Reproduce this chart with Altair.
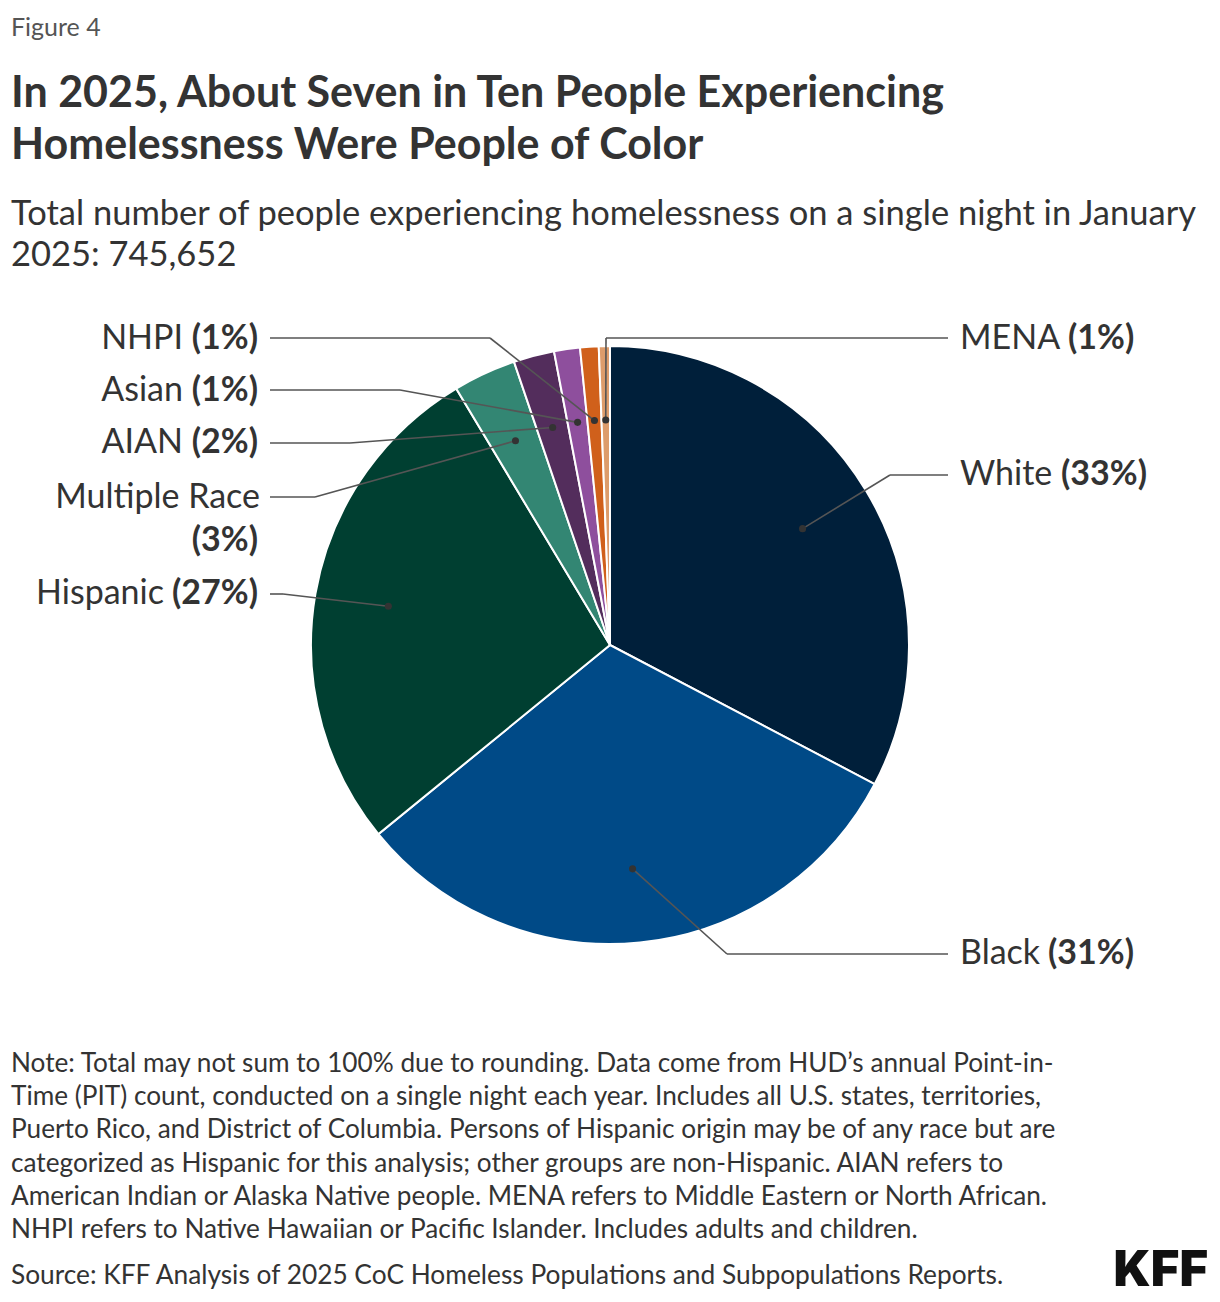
import altair as alt
import pandas as pd

# Share of people experiencing homelessness by race/ethnicity, January 2025 (percent)
categories = ["White", "Black", "Hispanic", "Multiple Race", "AIAN", "Asian", "NHPI", "MENA"]
shares = [32.7, 31.4, 27.3, 3.4, 2.2, 1.4, 1.0, 0.6]
slice_colors = ["#001f3a", "#004a87", "#003f31", "#338673", "#532d5c",
                "#8e4f9d", "#d0601b", "#dd9c6b"]

# Label layout (pixels): leader-line elbows and text anchors
label_y = [475, 954, 594, 497, 443, 390, 338, 338]
elbow_x = [890, 727, 283, 315, 350, 400, 490, 606]
line_end_x = [948, 948, 270, 270, 270, 270, 270, 948]
name_x = [960, 960, 164, 260, 183, 183, 183, 960]
name_y = [475, 954, 594, 498, 443, 391, 339, 339]
pct_x = [1061, 1048, 258, 258, 258, 258, 258, 1068]
pct_y = [475, 954, 594, 541, 443, 391, 339, 339]
side = ["right", "right", "left", "left", "left", "left", "left", "right"]

FONT = "Lato"
INK = "#333333"
CX, CY, R, R_DOT = 610, 645, 299, 225

df = pd.DataFrame({
    "idx": range(len(categories)),
    "category": categories,
    "share": shares,
    "label_y": label_y,
    "elbow_x": elbow_x,
    "line_end_x": line_end_x,
    "name_x": name_x,
    "name_y": name_y,
    "pct_x": pct_x,
    "pct_y": pct_y,
    "side": side,
})
df["pct_text"] = ["(" + str(int(round(v))) + "%)" for v in df["share"]]
df["name_text"] = df["category"]

W, H = 1220, 1302

pie = alt.Chart(df).mark_arc(radius=R, stroke="white", strokeWidth=2).encode(
    theta=alt.Theta("share:Q", stack=True),
    color=alt.Color("category:N", scale=alt.Scale(domain=categories, range=slice_colors), legend=None),
    order=alt.Order("idx:Q"),
    x=alt.value(CX),
    y=alt.value(CY),
)

# Anchor point of each leader line: mid-angle of the slice, 3/4 of the radius out
anchored = alt.Chart(df).transform_joinaggregate(
    total="sum(share)"
).transform_window(
    cum="sum(share)", sort=[alt.SortField("idx")]
).transform_calculate(
    mid="2*PI*(datum.cum - datum.share/2)/datum.total",
    dot_x=f"{CX} + {R_DOT}*sin(datum.mid)",
    dot_y=f"{CY} - {R_DOT}*cos(datum.mid)",
)

px = lambda f: alt.X(f, scale=None, axis=None)
py = lambda f: alt.Y(f, scale=None, axis=None)

leader_a = anchored.mark_rule(color="#555555", strokeWidth=1.6).encode(
    x=px("dot_x:Q"), y=py("dot_y:Q"), x2="elbow_x:Q", y2="label_y:Q"
)
leader_b = anchored.mark_rule(color="#555555", strokeWidth=1.6).encode(
    x=px("elbow_x:Q"), y=py("label_y:Q"), x2="line_end_x:Q"
)
dots = anchored.mark_circle(size=50, color="#333333", opacity=1).encode(
    x=px("dot_x:Q"), y=py("dot_y:Q")
)

label_size = 34
names_right = alt.Chart(df).transform_filter("datum.side == 'right'").mark_text(
    font=FONT, fontSize=label_size, color=INK, align="left", baseline="middle"
).encode(x=px("name_x:Q"), y=py("name_y:Q"), text="name_text:N")
names_left = alt.Chart(df).transform_filter("datum.side == 'left'").mark_text(
    font=FONT, fontSize=label_size, color=INK, align="right", baseline="middle"
).encode(x=px("name_x:Q"), y=py("name_y:Q"), text="name_text:N")
pcts_right = alt.Chart(df).transform_filter("datum.side == 'right'").mark_text(
    font=FONT, fontSize=label_size, fontWeight="bold", color=INK, align="left", baseline="middle"
).encode(x=px("pct_x:Q"), y=py("pct_y:Q"), text="pct_text:N")
pcts_left = alt.Chart(df).transform_filter("datum.side == 'left'").mark_text(
    font=FONT, fontSize=label_size, fontWeight="bold", color=INK, align="right", baseline="middle"
).encode(x=px("pct_x:Q"), y=py("pct_y:Q"), text="pct_text:N")


def text_block(lines, x, y0, step, size, weight="normal", color=INK, align="left", font=FONT):
    tdf = pd.DataFrame({"t": lines, "y": [y0 + i * step for i in range(len(lines))]})
    return alt.Chart(tdf).mark_text(
        font=font, fontSize=size, fontWeight=weight, color=color, align=align, baseline="alphabetic"
    ).encode(x=alt.value(x), y=py("y:Q"), text="t:N")


fig_label = text_block(["Figure 4"], 11, 36, 0, 25, color="#555555")
title = text_block(["In 2025, About Seven in Ten People Experiencing",
                    "Homelessness Were People of Color"], 11, 107, 52, 43, weight="bold")
subtitle = text_block(["Total number of people experiencing homelessness on a single night in January",
                       "2025: 745,652"], 11, 225, 41, 34.5)
note = text_block([
    "Note: Total may not sum to 100% due to rounding. Data come from HUD\u2019s annual Point-in-",
    "Time (PIT) count, conducted on a single night each year. Includes all U.S. states, territories,",
    "Puerto Rico, and District of Columbia. Persons of Hispanic origin may be of any race but are",
    "categorized as Hispanic for this analysis; other groups are non-Hispanic. AIAN refers to",
    "American Indian or Alaska Native people. MENA refers to Middle Eastern or North African.",
    "NHPI refers to Native Hawaiian or Pacific Islander. Includes adults and children.",
], 11, 1072, 33.2, 26.2)
source = text_block(["Source: KFF Analysis of 2025 CoC Homeless Populations and Subpopulations Reports."],
                    11, 1284, 0, 26.3)
logo = text_block(["KFF"], 1208, 1286, 0, 49, weight=900, color="#111111", align="right", font="Inter")

chart = alt.layer(
    pie, leader_a, leader_b, dots,
    names_right, names_left, pcts_right, pcts_left,
    fig_label, title, subtitle, note, source, logo,
).properties(
    width=W, height=H, padding=0, background="white",
    autosize=alt.AutoSizeParams(type="none"),
).configure_view(stroke=None)

chart.save("out.html", embed_options={"renderer": "svg", "actions": False})
